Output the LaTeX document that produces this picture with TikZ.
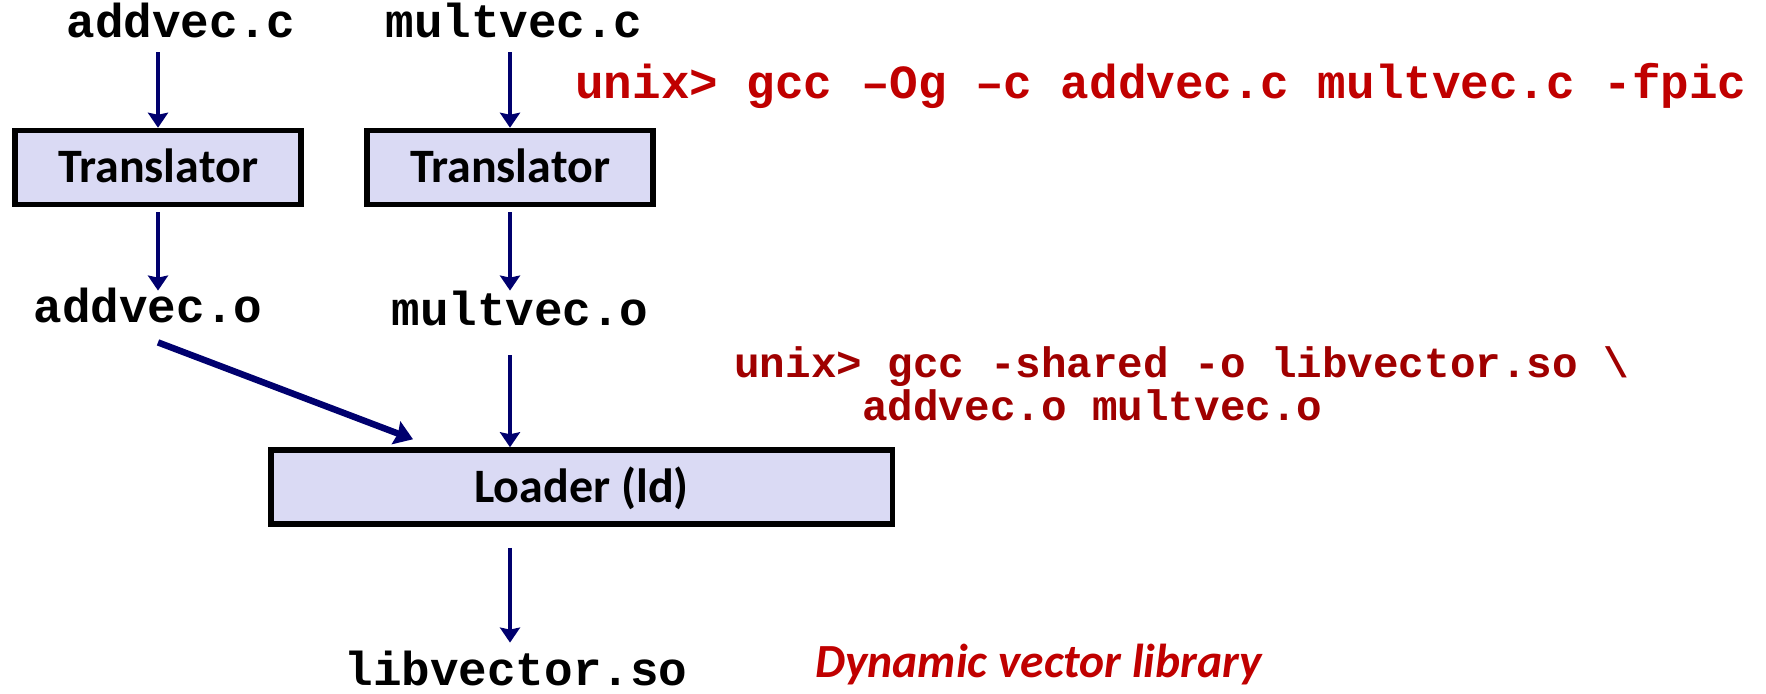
\documentclass[tikz,border=0pt]{standalone}
\usepackage{fontspec}
\usetikzlibrary{arrows.meta,calc}
\newfontfamily\codefont{Liberation Mono}
\newfontfamily\calfont{Carlito}
\definecolor{navyarrow}{RGB}{0,0,110}
\definecolor{boxfill}{RGB}{218,218,244}
\definecolor{cmdred}{RGB}{192,0,0}
\definecolor{cmddark}{RGB}{160,0,0}
\tikzset{
  procbox/.style={draw=black, line width=2.75pt, fill=boxfill, inner sep=0pt,
    text height=15pt, text depth=0pt, minimum height=37pt,
    font=\calfont\bfseries\fontsize{24pt}{29pt}\selectfont},
  fname/.style={inner sep=0pt, anchor=base, text height=13pt, text depth=0pt,
    font=\codefont\bfseries\fontsize{23.8pt}{28pt}\selectfont},
  cmdtext/.style={inner sep=0pt, anchor=base west},
  arr/.style={draw=navyarrow, line width=2.25pt, -{Stealth[length=7.5pt,width=10pt,inset=1pt]}},
  arrbig/.style={draw=navyarrow, line width=3.25pt, -{Stealth[length=9pt,width=12pt,inset=1pt]}}
}
\begin{document}
\begin{tikzpicture}[x=0.5pt,y=-0.5pt]
\useasboundingbox (0,0) rectangle (1766,693);
% file names
\node[fname] (addc) at (181,37) {addvec.c};
\node[fname] (multc) at (514,37) {multvec.c};
\node[fname] (addo) at (148,322) {addvec.o};
\node[fname] (multo) at (520,325) {multvec.o};
\node[fname] (lib) at (516,685) {libvector.so};
% boxes
\node[procbox, minimum width=143pt] (tr1) at (158,167.5) {Translator};
\node[procbox, minimum width=143pt] (tr2) at (510,167.5) {Translator};
\node[procbox, minimum width=310.75pt] (loader) at (581.5,487) {Loader (ld)};
% commands
\node[cmdtext, text=cmdred, font=\codefont\bfseries\fontsize{23.8pt}{28pt}\selectfont] (cmd1) at (575,98) {unix> gcc –Og –c addvec.c multvec.c -fpic};
\node[cmdtext, text=cmddark, font=\codefont\bfseries\fontsize{21.3pt}{26pt}\selectfont] (cmd2a) at (734,377) {unix> gcc -shared -o libvector.so \textbackslash};
\node[cmdtext, text=cmddark, font=\codefont\bfseries\fontsize{21.3pt}{26pt}\selectfont] (cmd2b) at (734,420) {\phantom{unix>}addvec.o multvec.o};
\node[cmdtext, text=cmdred, font=\calfont\bfseries\itshape\fontsize{23.8pt}{28pt}\selectfont] (dyn) at (815,677) {Dynamic vector library};
% connectors
\draw[arr, shorten <=7.5pt] (tr1.north |- addc.south) -- (tr1.north);
\draw[arr, shorten <=7.5pt] (tr2.north |- multc.south) -- (tr2.north);
\draw[arr, shorten <=2.5pt, shorten >=2.5pt] (tr1.south) -- (tr1.south |- addo.north);
\draw[arr, shorten <=2.5pt, shorten >=4pt] (tr2.south) -- (tr2.south |- multo.north);
\draw[arrbig] ([shift={(10,20)}]addo.south) -- ([shift={(-168.5,-8)}]loader.north);
\draw[arr, shorten <=15pt] (tr2.south |- multo.south) -- (tr2.south |- loader.north);
\draw[arr, shorten <=10.5pt, shorten >=8pt] (tr2.south |- loader.south) -- (tr2.south |- lib.north);
\end{tikzpicture}
\end{document}
